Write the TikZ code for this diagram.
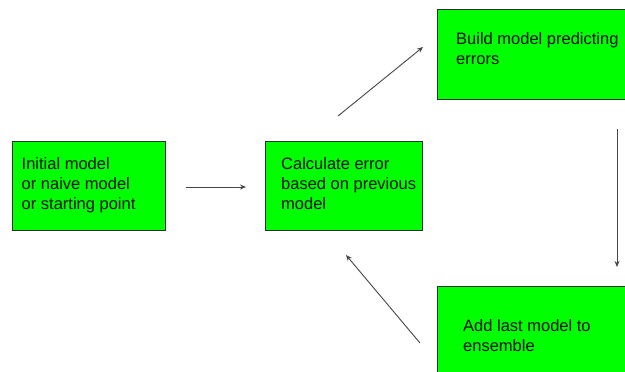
\documentclass[tikz,border=0pt]{standalone}
\usepackage{fontspec}
\setmainfont{Liberation Sans}
\usetikzlibrary{arrows.meta}
\definecolor{boxgreen}{RGB}{0,255,0}
\definecolor{boxedge}{RGB}{40,50,40}
\definecolor{arrowgray}{RGB}{70,70,70}
\begin{document}
\begin{tikzpicture}[x=1pt,y=-1pt,
  stepbox/.style={draw=boxedge, line width=0.8pt, fill=boxgreen, inner sep=0pt, anchor=north west},
  label/.style={anchor=north west, inner sep=0pt, align=left, font=\fontsize{16.5}{20.2}\selectfont, text=black!85!green!40!black},
  flow/.style={draw=arrowgray, line width=0.9pt, -{Stealth[length=6pt,width=5pt]}}]
  \useasboundingbox (0,0) rectangle (625,372);
  \clip (0,0) rectangle (625,372);
  % boxes
  \node[stepbox, minimum width=153pt, minimum height=89pt] (init) at (12,141) {};
  \node[stepbox, minimum width=157pt, minimum height=89pt] (calc) at (265,141) {};
  \node[stepbox, minimum width=200pt, minimum height=90pt] (build) at (437,9) {};
  \node[stepbox, minimum width=200pt, minimum height=100pt] (add) at (437,286) {};
  % texts (top edge = first baseline minus ascender height)
  \node[label] (tinit) at (21.5,157.2) {Initial model\\or naive model\\or starting point};
  \node[label] (tcalc) at (281,157.2) {Calculate error\\based on previous\\model};
  \node[label] (tbuild) at (456,32.2) {Build model predicting\\errors};
  \node[label] (tadd) at (463,319.2) {Add last model to\\ensemble};
  % arrow ends
  \coordinate (a1s) at (186,187); \coordinate (a1e) at (246,187);
  \coordinate (a2s) at (338,116); \coordinate (a2e) at (423,47);
  \coordinate (a3s) at (617,129); \coordinate (a3e) at (617,267);
  \coordinate (a4s) at (420,343); \coordinate (a4e) at (346,255);
  \draw[flow] (a1s) -- (a1e);
  \draw[flow] (a2s) -- (a2e);
  \draw[flow] (a3s) -- (a3e);
  \draw[flow] (a4s) -- (a4e);
\end{tikzpicture}
\end{document}
